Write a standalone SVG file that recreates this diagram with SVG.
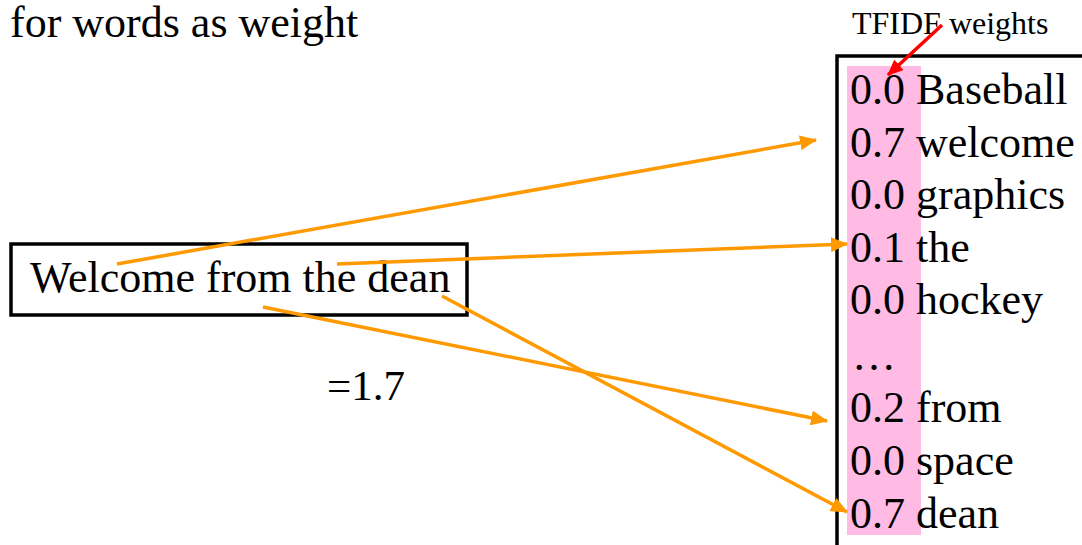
<svg xmlns="http://www.w3.org/2000/svg" width="1082" height="545" viewBox="0 0 1082 545">
<defs>
<style>
.t{font-family:"Liberation Serif","Times New Roman",serif;fill:#000}
.big{font-size:44px}
.conn{stroke:#FF9900;stroke-width:3.5;fill:none}
.red{stroke:#FF0000;stroke-width:3.5;fill:none}
</style>
<marker id="ao" markerUnits="userSpaceOnUse" markerWidth="17" markerHeight="15" refX="16" refY="7.5" orient="auto" viewBox="0 0 17 15">
<path d="M0,0 L17,7.5 L0,15 z" fill="#FF9900"/>
</marker>
<marker id="ar" markerUnits="userSpaceOnUse" markerWidth="16" markerHeight="14" refX="15" refY="7" orient="auto" viewBox="0 0 16 14">
<path d="M0,0 L16,7 L0,14 z" fill="#FF0000"/>
</marker>
</defs>
<rect width="1082" height="545" fill="#fff"/>
<g id="title">
<text class="t big" x="10" y="37">for words as weight</text>
</g>
<g id="query">
<rect x="11" y="244" width="456" height="71" fill="#fff" stroke="#000" stroke-width="3.5"/>
<text class="t big" x="30" y="292">Welcome from the dean</text>
</g>
<g id="score">
<text class="t" font-size="43" x="327" y="400">=1.7</text>
</g>
<g id="weights">
<rect x="847" y="66" width="74" height="469" fill="#FFBBE3"/>
<path d="M837,545 V56 H1082" fill="none" stroke="#000" stroke-width="3.5"/>
<text class="t" font-size="32" x="852" y="34">TFIDF weights</text>
<g class="t big">
<text x="850" y="104">0.0 Baseball</text>
<text x="850" y="157">0.7 welcome</text>
<text x="850" y="209">0.0 graphics</text>
<text x="850" y="262">0.1 the</text>
<text x="850" y="314">0.0 hockey</text>
<text x="852" y="370">…</text>
<text x="850" y="422">0.2 from</text>
<text x="850" y="475">0.0 space</text>
<text x="850" y="528">0.7 dean</text>
</g>
</g>
<g id="connectors">
<line class="conn" x1="117" y1="264" x2="816" y2="140" marker-end="url(#ao)"/>
<line class="conn" x1="337" y1="264" x2="847" y2="244" marker-end="url(#ao)"/>
<line class="conn" x1="263" y1="307" x2="827" y2="421" marker-end="url(#ao)"/>
<line class="conn" x1="442" y1="296" x2="847" y2="512" marker-end="url(#ao)"/>
<line class="red" x1="942" y1="25" x2="888" y2="75" marker-end="url(#ar)"/>
</g>
</svg>
